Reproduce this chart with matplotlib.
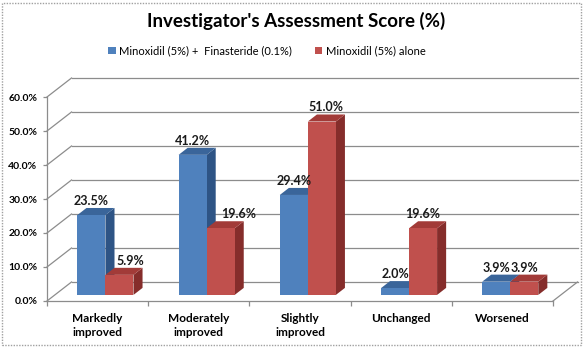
import matplotlib
matplotlib.use("Agg")
import matplotlib.pyplot as plt
from matplotlib.patches import Polygon, Rectangle, Patch
import numpy as np

# ---------------- data ----------------
categories = ["Markedly\nimproved", "Moderately\nimproved", "Slightly\nimproved", "Unchanged", "Worsened"]
series_names = ["Minoxidil (5%) +  Finasteride (0.1%)", "Minoxidil (5%) alone"]
combo = [23.5, 41.2, 29.4, 2.0, 3.9]
alone = [5.9, 19.6, 51.0, 19.6, 3.9]
yticks = [0, 10, 20, 30, 40, 50, 60]
title = "Investigator's Assessment Score (%)"

# ---------------- style ----------------
FONT = ["Lato", "DejaVu Sans"]
plt.rcParams['font.family'] = FONT
colors_front = ["#4F81BD", "#C0504D"]
colors_top = ["#3A659A", "#A23B38"]
colors_side = ["#2E5485", "#852D2B"]
grid_col = "#8C8C8C"

W, H = 584, 347
fig = plt.figure(figsize=(W / 100, H / 100), dpi=100)

px_per_cat = 101.2
px_per_pct = 3.4
xlo, xhi = -0.5, 4.8
ylo, yhi = 0, 72
left_px, bottom_px = 47, 301
ax = fig.add_axes([left_px / W, (H - bottom_px) / H,
                   (xhi - xlo) * px_per_cat / W, (yhi - ylo) * px_per_pct / H])
ax.set_xlim(xlo, xhi)
ax.set_ylim(ylo, yhi)
ax.set_facecolor("none")

# oblique depth offset (back wall) in data units
DX = 24.5 / px_per_cat
DY = 19.0 / px_per_pct
f0 = 0.32      # front face depth fraction
dep = 0.37     # bar depth fraction
bw = 0.277     # bar width

n = len(categories)
xl, xr = -0.5, n - 0.5

# back wall gridlines + left wall diagonals
for t in yticks:
    ax.plot([xl + DX, xr + DX], [t + DY, t + DY], color=grid_col, lw=0.9, zorder=1, clip_on=False)
    ax.plot([xl, xl + DX], [t, t + DY], color=grid_col, lw=0.9, zorder=1, clip_on=False)
# floor edges
ax.plot([xr, xr + DX], [0, DY], color=grid_col, lw=0.9, zorder=1, clip_on=False)

# bars
x = np.arange(n)
ddx, ddy = dep * DX, dep * DY
for s, vals in enumerate([combo, alone]):
    xs = x + f0 * DX + (s - 0.5) * bw
    bars = ax.bar(xs, vals, width=bw, bottom=f0 * DY, color=colors_front[s],
                  edgecolor="none", zorder=3 + 2 * s, label=series_names[s])
    for b in bars:
        x0 = b.get_x()
        x1 = x0 + b.get_width()
        y0 = b.get_y()
        y1 = y0 + b.get_height()
        side = Polygon([(x1, y0), (x1 + ddx, y0 + ddy), (x1 + ddx, y1 + ddy), (x1, y1)],
                       closed=True, facecolor=colors_side[s], edgecolor="none", zorder=2 + 2 * s)
        top = Polygon([(x0, y1), (x1, y1), (x1 + ddx, y1 + ddy), (x0 + ddx, y1 + ddy)],
                      closed=True, facecolor=colors_top[s], edgecolor="none", zorder=2 + 2 * s)
        ax.add_patch(side)
        ax.add_patch(top)

# value labels
label_dx_px = [[0, 0, 0, 0, 0], [11, 18, 4, 0, 0]]
for s, vals in enumerate([combo, alone]):
    for i, v in enumerate(vals):
        cx = i + f0 * DX + (s - 0.5) * bw + label_dx_px[s][i] / px_per_cat
        ax.text(cx, v + (f0 + dep) * DY + 0.9, f"{v:.1f}%", ha="center", va="baseline",
                fontsize=9, fontweight="bold", color="#1a1a1a", zorder=10)

# axes styling
for sp in ["top", "right"]:
    ax.spines[sp].set_visible(False)
ax.spines["left"].set_bounds(0, yticks[-1])
ax.spines["bottom"].set_bounds(xl, xr)
for sp in ["left", "bottom"]:
    ax.spines[sp].set_color(grid_col)
    ax.spines[sp].set_linewidth(0.9)

ax.set_yticks(yticks)
ax.set_yticklabels([f"{t:.1f}%" for t in yticks])
ax.tick_params(axis="y", length=3, width=0.9, color=grid_col, pad=4, labelsize=7.5)
for lab in ax.get_yticklabels():
    lab.set_fontweight("bold")

ax.set_xticks(np.arange(n + 1) - 0.5)
ax.set_xticklabels([])
ax.tick_params(axis="x", which="major", length=3.5, width=0.9, color=grid_col)
ax.set_xticks(x, minor=True)
ax.set_xticklabels(categories, minor=True, fontsize=8.5, fontweight="bold", linespacing=1.3)
ax.tick_params(axis="x", which="minor", length=0, pad=9)

# title and legend
fig.text(296 / W, 1 - 21 / H, title, ha="center", va="center", fontsize=13.5, fontweight="bold")
handles = [Patch(facecolor=colors_front[0]), Patch(facecolor=colors_front[1])]
fig.legend(handles, series_names, loc="center", bbox_to_anchor=(267 / W, 1 - 51 / H),
           ncol=2, frameon=False, fontsize=8, handlelength=0.65, handleheight=0.65,
           handletextpad=0.3, columnspacing=2.1, borderaxespad=0)

# figure border
fig.add_artist(Rectangle((1.5 / W, 2.5 / H), (W - 5) / W, (H - 5) / H, transform=fig.transFigure,
                         fill=False, edgecolor="#A0A0A0", linestyle=(0, (1, 1)), lw=1))

fig.savefig("out.png", dpi=100)
